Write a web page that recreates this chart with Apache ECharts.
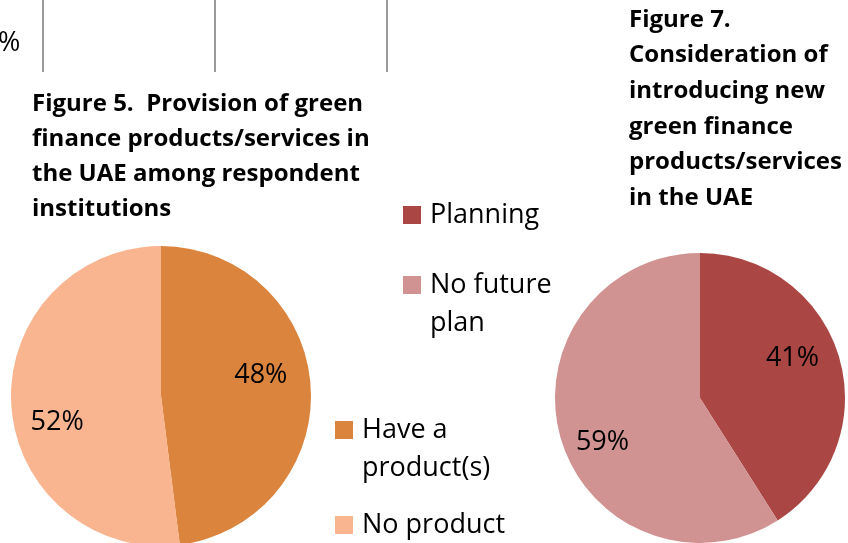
<!DOCTYPE html>
<html>
<head>
<meta charset="utf-8">
<script src="https://cdn.jsdelivr.net/npm/echarts@6/dist/echarts.min.js"></script>
<style>
  html, body { margin: 0; padding: 0; background: #fff; }
  #main { width: 848px; height: 543px; }
</style>
</head>
<body>
<div id="main"></div>
<script>
// Figure 5 - provision of products
var fig5Names = ['Have a\nproduct(s)', 'No product'];
var fig5Values = [48, 52];
var fig5Colors = ['#DB843D', '#F8B590'];

// Figure 7 - new products planned
var fig7Names = ['Planning', 'No future\nplan'];
var fig7Values = [41, 59];
var fig7Colors = ['#AA4643', '#D19392'];

var fontFam = '"Open Sans", "Noto Sans", sans-serif';

function pieData(names, values, colors, offsets) {
    var out = [];
    for (var i = 0; i < names.length; i++) {
        out.push({
            name: names[i],
            value: values[i],
            itemStyle: { color: colors[i] },
            label: { offset: offsets[i] }
        });
    }
    return out;
}

// one legend per item so the two-line names can sit like the original;
// an empty leading line pushes the first text line level with the square
function legendItem(name, left, top, multi) {
    return {
        data: [name],
        left: left,
        top: top,
        orient: 'vertical',
        padding: 0,
        icon: 'rect',
        itemWidth: 18,
        itemHeight: 18,
        selectedMode: false,
        formatter: function(n) {
            return multi ? '\n' + n : n;
        },
        textStyle: {
            fontFamily: fontFam,
            fontSize: 27,
            color: '#000',
            lineHeight: multi ? 38 : 30,
            padding: [0, 0, 0, 4]
        }
    };
}

var chart = echarts.init(document.getElementById('main'));
chart.setOption({
    animation: false,
    title: [{
        text: 'Figure 5.  Provision of green\nfinance products/services in\nthe UAE among respondent\ninstitutions',
        left: 32,
        top: 87,
        padding: 0,
        textStyle: { fontFamily: fontFam, fontSize: 24, fontWeight: 'bold', color: '#000', lineHeight: 35 }
    }, {
        text: 'Figure 7.\nConsideration of\nintroducing new\ngreen finance\nproducts/services\nin the UAE',
        left: 629,
        top: 2,
        padding: 0,
        textStyle: { fontFamily: fontFam, fontSize: 24, fontWeight: 'bold', color: '#000', lineHeight: 35.7 }
    }],
    legend: [
        legendItem(fig5Names[0], 335, 373, true),
        legendItem(fig5Names[1], 335, 510, false),
        legendItem(fig7Names[0], 403, 200, false),
        legendItem(fig7Names[1], 403, 228, true)
    ],
    // leftover of the chart above (cut off in the original)
    graphic: [
        { type: 'text', left: -2, top: 30, style: { text: '%', fontFamily: fontFam, fontSize: 27, fill: '#000' } },
        { type: 'line', shape: { x1: 43, y1: 0, x2: 43, y2: 72 }, style: { stroke: '#9a9a9a', lineWidth: 2 } },
        { type: 'line', shape: { x1: 215, y1: 0, x2: 215, y2: 72 }, style: { stroke: '#9a9a9a', lineWidth: 2 } },
        { type: 'line', shape: { x1: 387, y1: 0, x2: 387, y2: 72 }, style: { stroke: '#9a9a9a', lineWidth: 2 } }
    ],
    series: [{
        name: 'Figure 5',
        type: 'pie',
        center: [161, 396],
        radius: [0, 150],
        startAngle: 90,
        clockwise: true,
        emphasis: { disabled: true },
        itemStyle: { borderWidth: 0 },
        label: {
            position: 'inside',
            formatter: '{c}%',
            fontFamily: fontFam,
            fontSize: 27,
            color: '#000'
        },
        labelLine: { show: false },
        data: pieData(fig5Names, fig5Values, fig5Colors, [[22, -16], [-26, 21]])
    }, {
        name: 'Figure 7',
        type: 'pie',
        center: [700, 398],
        radius: [0, 145],
        startAngle: 90,
        clockwise: true,
        emphasis: { disabled: true },
        itemStyle: { borderWidth: 0 },
        label: {
            position: 'inside',
            formatter: '{c}%',
            fontFamily: fontFam,
            fontSize: 27,
            color: '#000'
        },
        labelLine: { show: false },
        data: pieData(fig7Names, fig7Values, fig7Colors, [[20, -19], [-25, 23]])
    }]
});
</script>
</body>
</html>
